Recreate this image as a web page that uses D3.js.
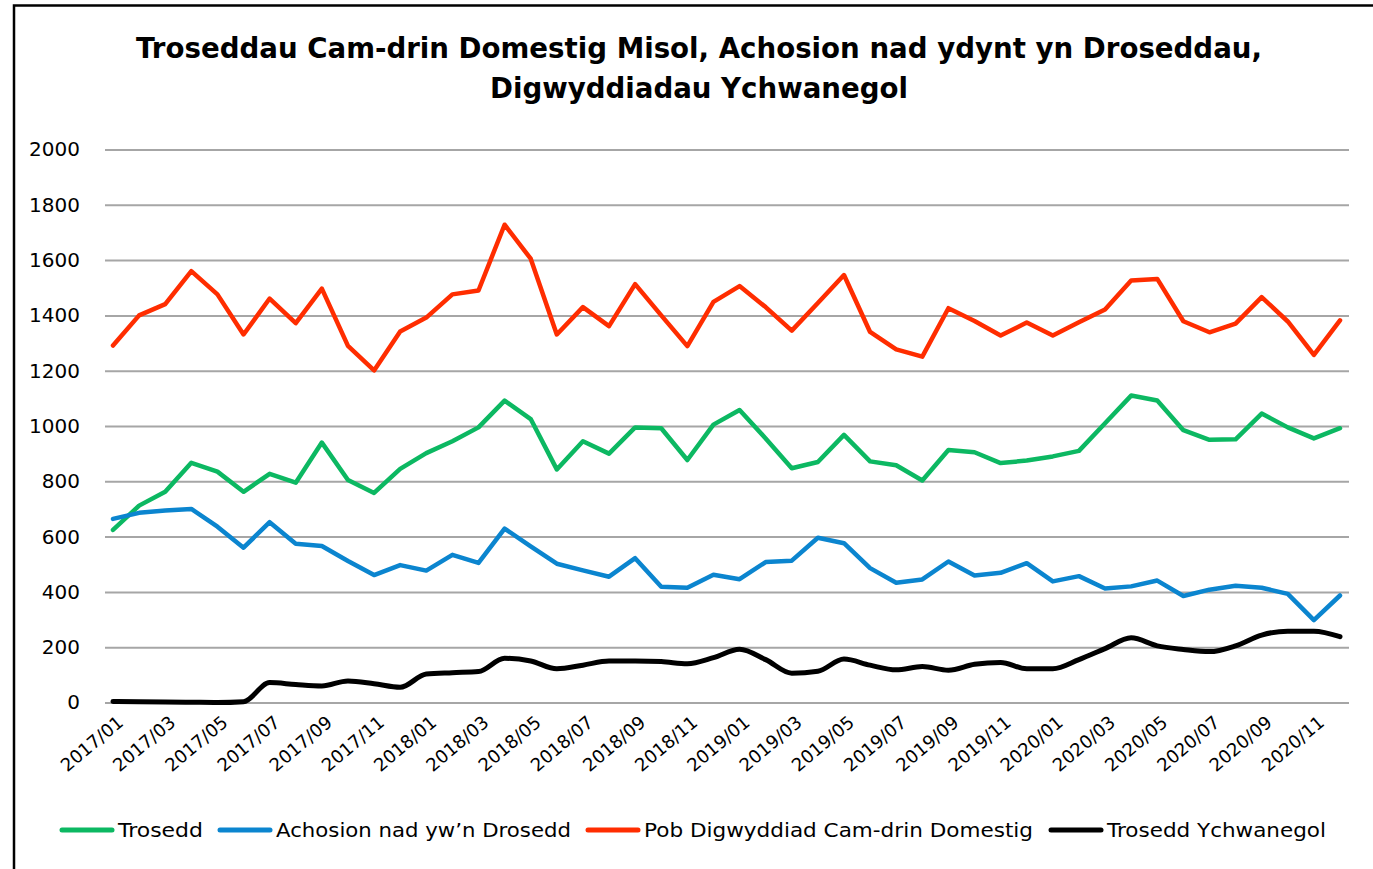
<!DOCTYPE html>
<html>
<head>
<meta charset="utf-8">
<script src="https://cdn.jsdelivr.net/npm/d3@7"></script>
<style>
  body { margin: 0; background: #fff; }
  text { font-family: "DejaVu Sans", sans-serif; fill: #000; }
</style>
</head>
<body>
<div id="chart"></div>
<script>
// months 2017/01 .. 2020/12
var months = [
  "2017/01","2017/02","2017/03","2017/04","2017/05","2017/06","2017/07","2017/08","2017/09","2017/10","2017/11","2017/12",
  "2018/01","2018/02","2018/03","2018/04","2018/05","2018/06","2018/07","2018/08","2018/09","2018/10","2018/11","2018/12",
  "2019/01","2019/02","2019/03","2019/04","2019/05","2019/06","2019/07","2019/08","2019/09","2019/10","2019/11","2019/12",
  "2020/01","2020/02","2020/03","2020/04","2020/05","2020/06","2020/07","2020/08","2020/09","2020/10","2020/11","2020/12"
];
var xTickLabels = ["2017/01","2017/03","2017/05","2017/07","2017/09","2017/11","2018/01","2018/03","2018/05","2018/07",
  "2018/09","2018/11","2019/01","2019/03","2019/05","2019/07","2019/09","2019/11","2020/01","2020/03","2020/05",
  "2020/07","2020/09","2020/11"];
var yTicks = [0, 200, 400, 600, 800, 1000, 1200, 1400, 1600, 1800, 2000];

var trosedd = [624, 712, 762, 867, 835, 762, 827, 795, 940, 805, 758, 845,
  902, 945, 995, 1092, 1025, 843, 945, 900, 995, 992, 877, 1005,
  1058, 955, 847, 870, 968, 872, 858, 803, 913, 905, 866, 875,
  890, 910, 1010, 1110, 1092, 985, 950, 952, 1045, 995, 955, 992];
var achosion = [664, 686, 694, 700, 636, 560, 652, 574, 566, 512, 461, 497,
  477, 534, 505, 629, 565, 502, 478, 455, 522, 419, 415, 462,
  446, 508, 513, 596, 576, 486, 433, 445, 510, 459, 469, 504,
  438, 457, 412, 420, 441, 385, 408, 422, 415, 393, 298, 387];
var pob = [1291, 1400, 1441, 1560, 1476, 1331, 1461, 1372, 1497, 1290, 1201, 1342,
  1392, 1476, 1490, 1728, 1605, 1331, 1430, 1361, 1513, 1400, 1289, 1449,
  1506, 1430, 1345, 1445, 1546, 1340, 1277, 1251, 1426, 1380, 1327, 1374,
  1327, 1375, 1421, 1526, 1532, 1379, 1339, 1370, 1466, 1378, 1257, 1382];
var ychwanegol = [4, 3, 2, 1, 0, 3, 72, 65, 60, 78, 68, 55,
  103, 108, 112, 160, 150, 122, 135, 150, 150, 148, 140, 162,
  193, 155, 106, 113, 157, 135, 118, 130, 117, 138, 145, 122,
  122, 155, 195, 234, 205, 192, 184, 205, 244, 258, 258, 238];

var seriesNames = ["Trosedd", "Achosion nad yw\u2019n Drosedd", "Pob Digwyddiad Cam-drin Domestig", "Trosedd Ychwanegol"];
var seriesColors = ["#0cb862", "#0b85cf", "#ff2d00", "#000000"];
var seriesData = [trosedd, achosion, pob, ychwanegol];

var svgWidth = 1373, svgHeight = 869;
var plot = { left: 105, right: 1349, top: 149.5, bottom: 702.5 };

var svg = d3.select("#chart").append("svg")
  .attr("width", svgWidth)
  .attr("height", svgHeight);

// frame (right and bottom edges fall outside the picture)
svg.append("rect")
  .attr("x", 14).attr("y", 5.5)
  .attr("width", 1400).attr("height", 900)
  .attr("fill", "#fff")
  .attr("stroke", "#000")
  .attr("stroke-width", 2.5);

// title
var titleLines = ["Troseddau Cam-drin Domestig Misol, Achosion nad ydynt yn Droseddau,", "Digwyddiadau Ychwanegol"];
var titleWidths = [1126, 418];
svg.selectAll(".title")
  .data(titleLines)
  .enter().append("text")
  .attr("class", "title")
  .attr("x", 699)
  .attr("y", (d, i) => 58 + i * 40)
  .attr("text-anchor", "middle")
  .attr("font-size", 28)
  .attr("font-weight", "bold")
  .attr("textLength", (d, i) => titleWidths[i])
  .attr("lengthAdjust", "spacingAndGlyphs")
  .text(d => d);

var x = d3.scalePoint().domain(months).range([113, 1340]);
var y = d3.scaleLinear().domain([0, 2000]).range([plot.bottom, plot.top]);

// y axis + gridlines
var yAxis = svg.append("g")
  .attr("transform", `translate(${plot.left},0)`)
  .call(d3.axisLeft(y).tickValues(yTicks).tickFormat(d3.format("d"))
    .tickSize(-(plot.right - plot.left)).tickPadding(25));
yAxis.select(".domain").remove();
yAxis.selectAll(".tick line").attr("stroke", "#a6a6a6").attr("stroke-width", 2);
yAxis.selectAll(".tick text")
  .attr("font-size", 20)
  .attr("font-family", "DejaVu Sans, sans-serif")
  .attr("fill", "#000");

// x axis labels
var xAxis = svg.append("g")
  .attr("transform", `translate(0,${plot.bottom})`)
  .call(d3.axisBottom(x).tickValues(xTickLabels).tickSize(0));
xAxis.select(".domain").remove();
xAxis.selectAll(".tick text")
  .attr("font-size", 18)
  .attr("font-family", "DejaVu Sans, sans-serif")
  .attr("fill", "#000")
  .attr("x", 0).attr("y", 0).attr("dy", "0.35em")
  .attr("text-anchor", "end")
  .attr("transform", "translate(7,17) rotate(-40)");

// lines
var line = d3.line()
  .x((d, i) => x(months[i]))
  .y(d => y(d));
var smoothLine = d3.line()
  .x((d, i) => x(months[i]))
  .y(d => y(d))
  .curve(d3.curveMonotoneX);

seriesData.forEach((vals, k) => {
  svg.append("path")
    .datum(vals)
    .attr("fill", "none")
    .attr("stroke", seriesColors[k])
    .attr("stroke-width", k == 3 ? 5 : 4.5)
    .attr("stroke-linejoin", "round")
    .attr("stroke-linecap", "round")
    .attr("d", k == 3 ? smoothLine : line);
});

// legend
var legendX = [62, 220, 588, 1051];
var legendTextW = [85, 295, 389, 219];
var legend = svg.selectAll(".legend")
  .data(seriesNames)
  .enter().append("g")
  .attr("class", "legend")
  .attr("transform", (d, i) => `translate(${legendX[i]},830)`);
legend.append("line")
  .attr("x1", 0).attr("x2", 50)
  .attr("y1", 0).attr("y2", 0)
  .attr("stroke", (d, i) => seriesColors[i])
  .attr("stroke-width", 5)
  .attr("stroke-linecap", "round");
legend.append("text")
  .attr("x", 56)
  .attr("y", 7)
  .attr("font-size", 19)
  .attr("textLength", (d, i) => legendTextW[i])
  .attr("lengthAdjust", "spacingAndGlyphs")
  .text(d => d);
</script>
</body>
</html>
